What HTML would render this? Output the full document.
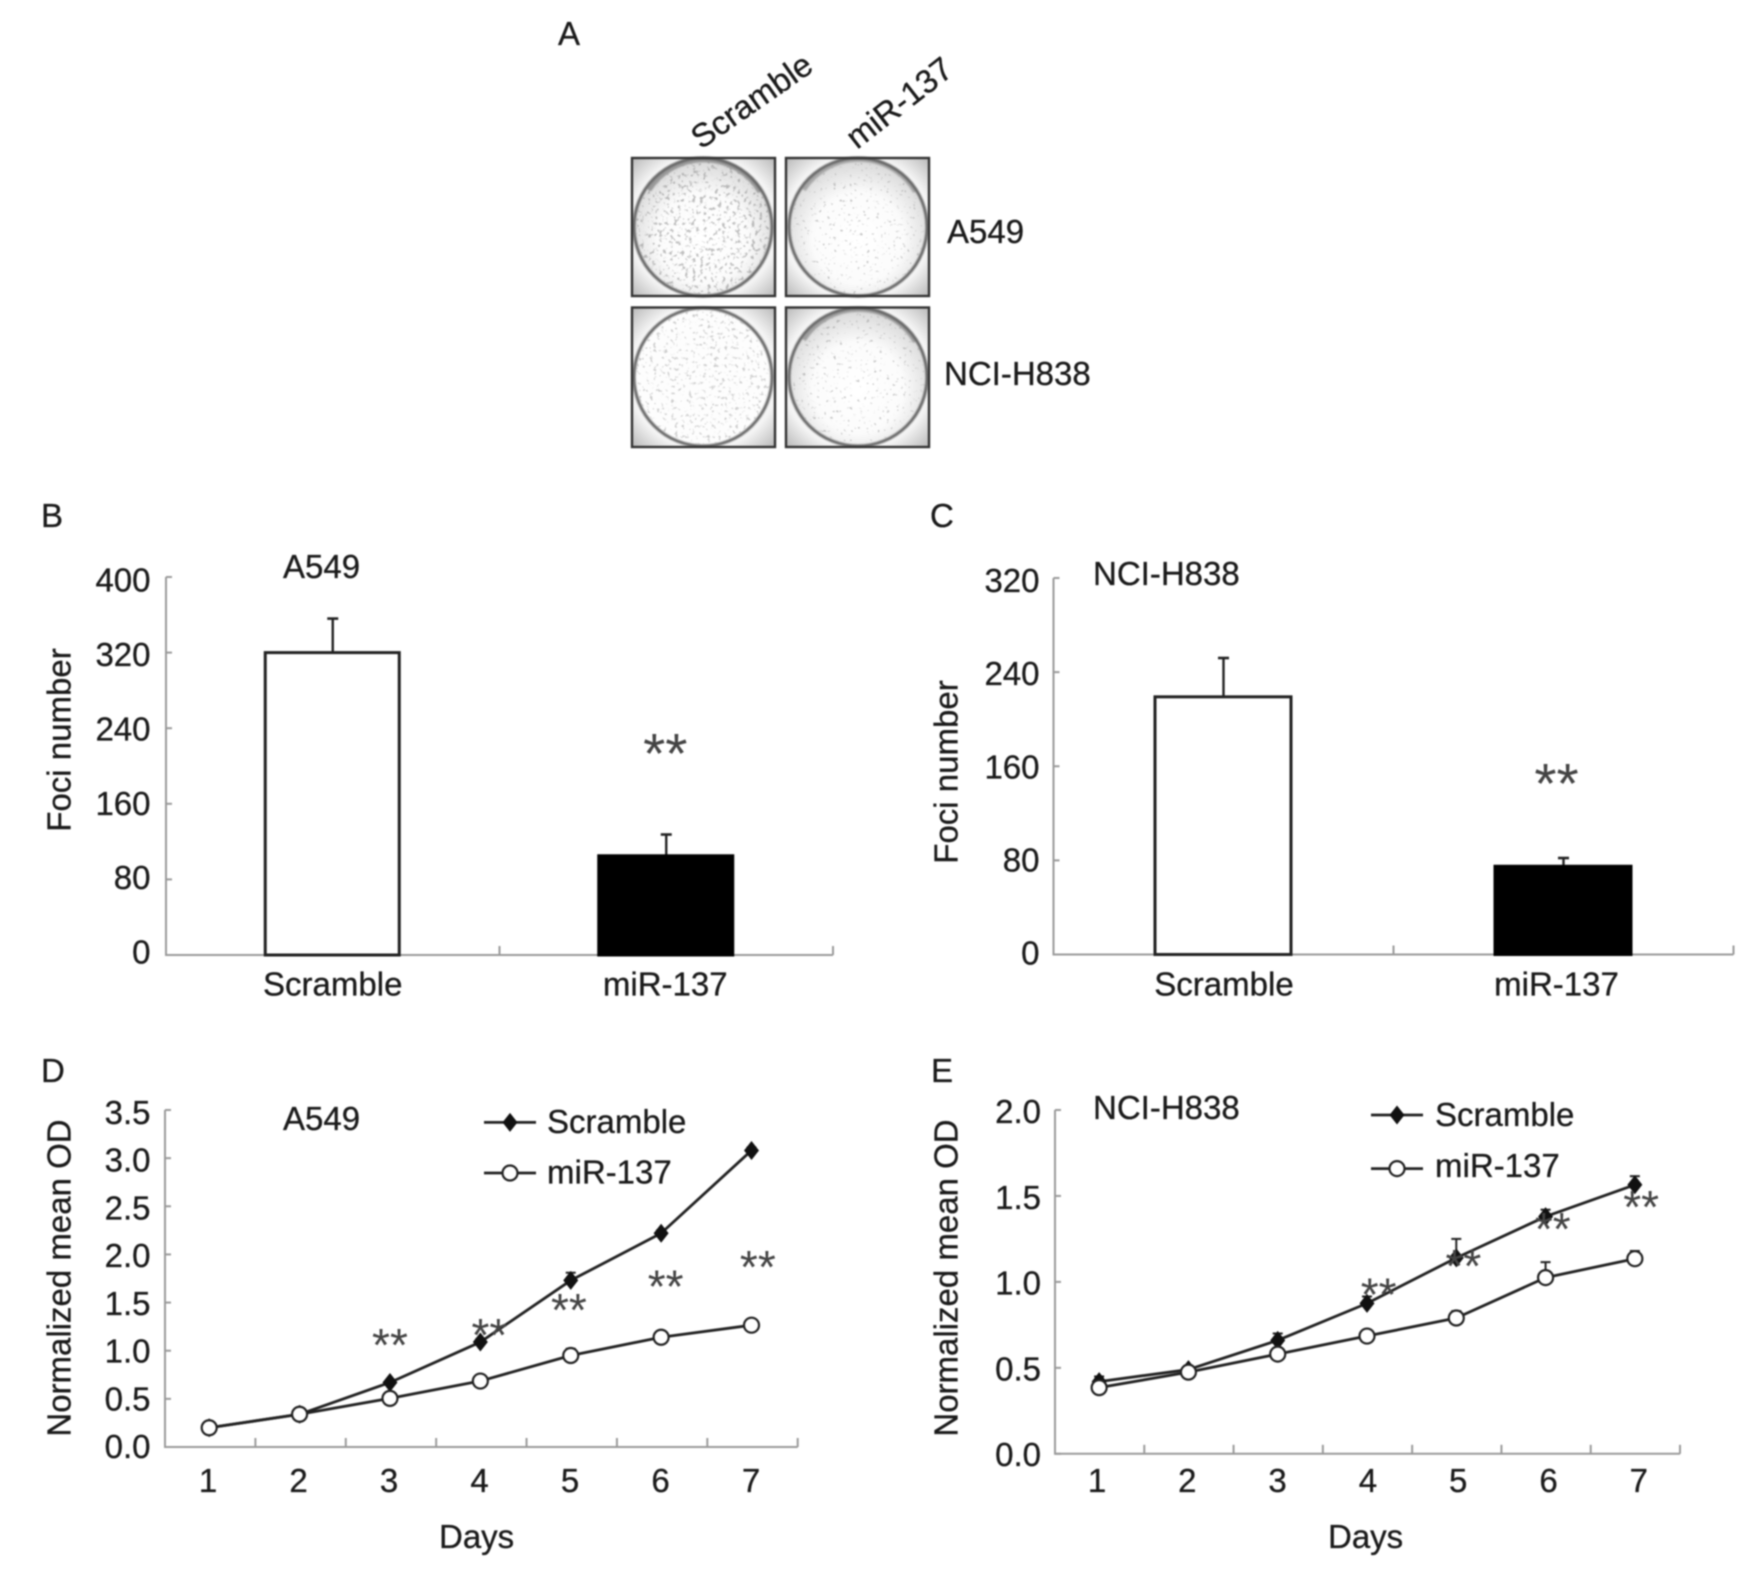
<!DOCTYPE html>
<html lang="en">
<head>
<meta charset="utf-8">
<title>miR-137 foci and growth figure</title>
<style>
html,body{margin:0;padding:0;background:#fff;}
#figure{display:block;width:1748px;height:1571px;filter:blur(0.75px);}
text{font-family:"Liberation Sans",Arial,sans-serif;font-size:33px;fill:#1a1a1a;stroke:#1a1a1a;stroke-width:0.3px;}
.panel-letter{font-size:33px;}
.star{fill:#444;stroke:none;}
</style>
</head>
<body>
<svg id="figure" xmlns="http://www.w3.org/2000/svg" width="1748" height="1571" viewBox="0 0 1748 1571">
<defs>
<radialGradient id="plate-bg" cx="50%" cy="50%" r="72%">
<stop offset="0" stop-color="#ffffff"/><stop offset="0.72" stop-color="#f4f4f4"/><stop offset="1" stop-color="#b4b4b4"/>
</radialGradient>
<radialGradient id="dish-fill" cx="50%" cy="58%" r="55%">
<stop offset="0" stop-color="#ffffff"/><stop offset="0.6" stop-color="#fbfbfb"/><stop offset="1" stop-color="#dadada"/>
</radialGradient>
<clipPath id="clip-1"><circle cx="703" cy="227" r="67"/></clipPath>
<clipPath id="clip-2"><circle cx="858" cy="227" r="67"/></clipPath>
<clipPath id="clip-3"><circle cx="703" cy="377" r="67"/></clipPath>
<clipPath id="clip-4"><circle cx="858" cy="377" r="67"/></clipPath>
<filter id="spots-dense" x="0" y="0" width="1" height="1"><feTurbulence type="fractalNoise" baseFrequency="0.27" numOctaves="3" seed="4"/><feColorMatrix values="0 0 0 0 0.3 0 0 0 0 0.3 0 0 0 0 0.3 8 0 0 0 -4.6"/></filter>
<filter id="spots-sparse" x="0" y="0" width="1" height="1"><feTurbulence type="fractalNoise" baseFrequency="0.3" numOctaves="2" seed="11"/><feColorMatrix values="0 0 0 0 0.35 0 0 0 0 0.35 0 0 0 0 0.35 9 0 0 0 -6.0"/></filter>
<filter id="spots-medium" x="0" y="0" width="1" height="1"><feTurbulence type="fractalNoise" baseFrequency="0.28" numOctaves="3" seed="23"/><feColorMatrix values="0 0 0 0 0.35 0 0 0 0 0.35 0 0 0 0 0.35 8 0 0 0 -4.9"/></filter>
<filter id="soft"><feGaussianBlur stdDeviation="0.8"/></filter>
</defs>
<rect width="1748" height="1571" fill="#fff"/>

<text class="panel-letter" x="558" y="45">A</text>
<text class="panel-letter" x="41" y="527">B</text>
<text class="panel-letter" x="930" y="527">C</text>
<text class="panel-letter" x="41" y="1082">D</text>
<text class="panel-letter" x="931" y="1082">E</text>

<g>
<text transform="translate(701,150) rotate(-35)">Scramble</text>
<text transform="translate(857,150) rotate(-38)">miR-137</text>
<text x="947" y="243">A549</text>
<text x="944" y="385">NCI-H838</text>

<g>
<rect x="632" y="158" width="143" height="138" fill="url(#plate-bg)"/>
<circle cx="703" cy="227" r="69" fill="url(#dish-fill)"/>
<g clip-path="url(#clip-1)" opacity="0.6"><rect x="632" y="158" width="143" height="138" filter="url(#spots-dense)"/></g>
<path d="M649 190A65 65 0 0 1 760 192" fill="none" stroke="#9a9a9a" stroke-width="5" filter="url(#soft)"/>
<circle cx="703" cy="227" r="69" fill="none" stroke="#666" stroke-width="3" filter="url(#soft)"/>
<rect x="632" y="158" width="143" height="138" fill="none" stroke="#333" stroke-width="2.4"/>
</g>
<g>
<rect x="786" y="158" width="143" height="138" fill="url(#plate-bg)"/>
<circle cx="858" cy="227" r="69" fill="url(#dish-fill)"/>
<g clip-path="url(#clip-2)" opacity="0.6"><rect x="786" y="158" width="143" height="138" filter="url(#spots-sparse)"/></g>
<path d="M804 190A65 65 0 0 1 915 192" fill="none" stroke="#a8a8a8" stroke-width="4" filter="url(#soft)"/>
<circle cx="858" cy="227" r="69" fill="none" stroke="#666" stroke-width="3" filter="url(#soft)"/>
<rect x="786" y="158" width="143" height="138" fill="none" stroke="#333" stroke-width="2.4"/>
</g>
<g>
<rect x="632" y="307.5" width="143" height="139.5" fill="url(#plate-bg)"/>
<circle cx="703" cy="377" r="69" fill="#fdfdfd"/>
<g clip-path="url(#clip-3)" opacity="0.5"><rect x="632" y="307.5" width="143" height="139.5" filter="url(#spots-medium)"/></g>
<circle cx="703" cy="377" r="69" fill="none" stroke="#666" stroke-width="3" filter="url(#soft)"/>
<rect x="632" y="307.5" width="143" height="139.5" fill="none" stroke="#333" stroke-width="2.4"/>
</g>
<g>
<rect x="786" y="307.5" width="143" height="139.5" fill="url(#plate-bg)"/>
<circle cx="858" cy="377" r="69" fill="url(#dish-fill)"/>
<g clip-path="url(#clip-4)" opacity="0.6"><rect x="786" y="307.5" width="143" height="139.5" filter="url(#spots-sparse)"/></g>
<path d="M804 340A65 65 0 0 1 915 342" fill="none" stroke="#a0a0a0" stroke-width="4" filter="url(#soft)"/>
<circle cx="858" cy="377" r="69" fill="none" stroke="#666" stroke-width="3" filter="url(#soft)"/>
<rect x="786" y="307.5" width="143" height="139.5" fill="none" stroke="#333" stroke-width="2.4"/>
</g>
</g>

<g id="panel-b"></g>
<g id="panel-c"></g>
<g id="panel-d"></g>
<g id="panel-e"></g>
</svg>

<script>
// Panel B / C: foci counts
const fociCategories = ['Scramble', 'miR-137'];
const bValues = [320, 105];
const bErrors = [36, 22.5];
const bTickLabels = ['0', '80', '160', '240', '320', '400'];
const bStarLevel = 220;
const cValues = [219, 75];
const cErrors = [33, 7];
const cTickLabels = ['0', '80', '160', '240', '320'];
const cStarLevel = 151;

// Panel D / E: growth curves
const days = [1, 2, 3, 4, 5, 6, 7];
const dScramble = [0.2, 0.34, 0.67, 1.09, 1.73, 2.22, 3.08];
const dScrambleErr = [0.01, 0.02, 0.02, 0.03, 0.08, 0.03, 0.03];
const dMir = [0.2, 0.34, 0.505, 0.685, 0.95, 1.14, 1.265];
const dMirErr = [0.01, 0.01, 0.02, 0.02, 0.07, 0.02, 0.02];
const dTickLabels = ['0.0', '0.5', '1.0', '1.5', '2.0', '2.5', '3.0', '3.5'];
const dStarDays = [3.0, 4.1, 4.98, 6.05, 7.07];
const dStarLevels = [1.11, 1.215, 1.475, 1.72, 1.92];
const eScramble = [0.42, 0.49, 0.66, 0.875, 1.14, 1.38, 1.565];
const eScrambleErr = [0.03, 0.02, 0.04, 0.04, 0.11, 0.04, 0.05];
const eMir = [0.385, 0.475, 0.58, 0.685, 0.79, 1.025, 1.135];
const eMirErr = [0.01, 0.02, 0.01, 0.01, 0.04, 0.09, 0.045];
const eTickLabels = ['0.0', '0.5', '1.0', '1.5', '2.0'];
const eStarDays = [4.13, 5.08, 6.08, 7.07];
const eStarLevels = [0.956, 1.12, 1.336, 1.465];
const legendSeries = ['Scramble', 'miR-137'];

const NS = 'http://www.w3.org/2000/svg';
const AXIS = '#9a9a9a';
const INK = '#222';

function make(parent, tag, attrs, content) {
  const el = document.createElementNS(NS, tag);
  for (const k in attrs) el.setAttribute(k, attrs[k]);
  if (content !== undefined) el.textContent = content;
  parent.appendChild(el);
  return el;
}

function drawAxes(root, a, tickLabels, xTickCount) {
  const max = Number(tickLabels[tickLabels.length - 1]);
  const y = v => a.y0 - (v / max) * (a.y0 - a.yTop);
  let el = make(root, 'line', {x1: a.x0, x2: a.x0, y1: a.yTop, y2: a.y0, stroke: AXIS, 'stroke-width': 2});
  
  
  el = make(root, 'line', {x1: a.x0 - 1, x2: a.xEnd, y1: a.y0, y2: a.y0, stroke: AXIS, 'stroke-width': 2});
  
  
  tickLabels.forEach(label => {
    const v = Number(label);
    const frac = v / max;
    let t = make(root, 'line', {x1: a.x0, x2: a.x0 + 6, y1: y(v), y2: y(v), stroke: AXIS, 'stroke-width': 2});
    
    
    const off = a.labelOffBottom + (a.labelOffTop - a.labelOffBottom) * frac;
    t = make(root, 'text', {x: a.labelEnd, y: y(v) + off, 'text-anchor': 'end'}, label);
    
    
  });
  const band = (a.xEnd - a.x0) / xTickCount;
  for (let i = 1; i <= xTickCount; i++) {
    const px = a.x0 + band * i;
    const t = make(root, 'line', {x1: px, x2: px, y1: a.y0 - 9, y2: a.y0, stroke: AXIS, 'stroke-width': 2});
    
    
  }
  const title = make(root, 'text', {transform: 'translate(' + a.titleX + ',' + a.titleY + ') rotate(-90)', 'text-anchor': 'middle'}, a.yTitle);
  
  
  const cell = make(root, 'text', {x: a.cellX, y: a.cellY}, a.cellName);
  
  
  return {y, band};
}

function drawStar(root, x, cy, size) {
  const s = make(root, 'text', {x: x, y: cy + size * 0.455, 'text-anchor': 'middle', class: 'star', style: 'font-size:' + size + 'px'}, '**');
  
  
}

function drawBars(root, a, values, errors, tickLabels, starLevel) {
  const {y, band} = drawAxes(root, a, tickLabels, 2);
  const cx = i => a.x0 + band * (i + 0.5);
  values.forEach((v, i) => {
    const ex = cx(i);
    const top = y(v + errors[i]);
    let el = make(root, 'line', {x1: ex, x2: ex, y1: top, y2: y(v), stroke: INK, 'stroke-width': 2.4});
    
    
    el = make(root, 'line', {x1: ex - 5.5, x2: ex + 5.5, y1: top, y2: top, stroke: INK, 'stroke-width': 2.6});
    
    
    el = make(root, 'rect', {x: ex - a.barW / 2 - 0.5, y: y(v), width: a.barW, height: a.y0 - y(v), fill: i === 0 ? '#fff' : '#000', stroke: i === 0 ? '#222' : '#000', 'stroke-width': 3});
    
    
    el = make(root, 'text', {x: ex + a.catDx[i], y: a.catY, 'text-anchor': 'middle'}, fociCategories[i]);
    
    
  });
  drawStar(root, cx(1) + a.catDx[1], y(starLevel), 57);
}

function drawSeries(root, xf, y, vals, errs, filled) {
  const pts = vals.map((v, i) => xf(days[i]) + ',' + y(v)).join(' ');
  let p = make(root, 'polyline', {points: pts, fill: 'none', stroke: INK, 'stroke-width': 2.8, 'stroke-linejoin': 'round'});
  
  
  vals.forEach((v, i) => {
    const px = xf(days[i]);
    const top = y(v + errs[i]);
    let e = make(root, 'line', {x1: px, x2: px, y1: top, y2: y(v), stroke: INK, 'stroke-width': 2});
    
    
    e = make(root, 'line', {x1: px - 5, x2: px + 5, y1: top, y2: top, stroke: INK, 'stroke-width': 2});
    
    
  });
  vals.forEach((v, i) => {
    const px = xf(days[i]);
    const py = y(v);
    if (filled) {
      const m = make(root, 'polygon', {points: [px, py - 9.5, px + 7.5, py, px, py + 9.5, px - 7.5, py].join(','), fill: '#111'});
      
      
    } else {
      const m = make(root, 'circle', {cx: px, cy: py, r: 7.5, fill: '#fff', stroke: INK, 'stroke-width': 2.2});
      
      
    }
  });
}

function drawLegend(root, l) {
  let e = make(root, 'line', {x1: l.x1, x2: l.x2, y1: l.y1, y2: l.y1, stroke: INK, 'stroke-width': 2.8});
  
  
  const mx = (l.x1 + l.x2) / 2;
  e = make(root, 'polygon', {points: [mx, l.y1 - 9.5, mx + 7.5, l.y1, mx, l.y1 + 9.5, mx - 7.5, l.y1].join(','), fill: '#111'});
  
  
  e = make(root, 'text', {x: l.tx, y: l.t1}, legendSeries[0]);
  
  
  e = make(root, 'line', {x1: l.x1, x2: l.x2, y1: l.y2, y2: l.y2, stroke: INK, 'stroke-width': 2.8});
  
  
  e = make(root, 'circle', {cx: mx, cy: l.y2, r: 7.5, fill: '#fff', stroke: INK, 'stroke-width': 2.2});
  
  
  e = make(root, 'text', {x: l.tx, y: l.t2}, legendSeries[1]);
  
  
}

function drawLines(root, a, scramble, scrambleErr, mir, mirErr, tickLabels, starDays, starLevels) {
  const {y, band} = drawAxes(root, a, tickLabels, 7);
  const xf = d => a.x0 + band * (d - 0.5) + a.pointDx;
  days.forEach((d, i) => {
    const t = make(root, 'text', {x: a.dayX0 + a.dayStep * i, y: a.dayY, 'text-anchor': 'middle'}, String(d));
    
    
  });
  const title = make(root, 'text', {x: a.daysX, y: a.daysY, 'text-anchor': 'middle'}, 'Days');
  
  
  drawSeries(root, xf, y, scramble, scrambleErr, true);
  drawSeries(root, xf, y, mir, mirErr, false);
  starDays.forEach((d, i) => drawStar(root, xf(d), y(starLevels[i]), 46));
  drawLegend(root, a.legend);
}

drawBars(document.getElementById('panel-b'), {
  x0: 166, xEnd: 833, yTop: 577, y0: 955, barW: 134, catY: 995.5, catDx: [0, -1],
  labelEnd: 150.5, labelOffTop: 14.5, labelOffBottom: 8.6,
  titleX: 70.5, titleY: 740, yTitle: 'Foci number',
  cellX: 283, cellY: 578, cellName: 'A549'
}, bValues, bErrors, bTickLabels, bStarLevel);

drawBars(document.getElementById('panel-c'), {
  x0: 1053.5, xEnd: 1733.5, yTop: 578, y0: 954.5, barW: 136, catY: 995.5, catDx: [0.5, -7],
  labelEnd: 1039.5, labelOffTop: 14, labelOffBottom: 10,
  titleX: 957.6, titleY: 772, yTitle: 'Foci number',
  cellX: 1093, cellY: 585, cellName: 'NCI-H838'
}, cValues, cErrors, cTickLabels, cStarLevel);

drawLines(document.getElementById('panel-d'), {
  x0: 165, xEnd: 797.7, yTop: 1110, y0: 1447, pointDx: -1,
  labelEnd: 150.5, labelOffTop: 14, labelOffBottom: 11,
  titleX: 70.5, titleY: 1278, yTitle: 'Normalized mean OD',
  cellX: 283, cellY: 1130, cellName: 'A549',
  dayX0: 208, dayStep: 90.5, dayY: 1492, daysX: 476.6, daysY: 1548,
  legend: {x1: 484, x2: 536, y1: 1122.4, y2: 1173, tx: 547, t1: 1133, t2: 1183.5}
}, dScramble, dScrambleErr, dMir, dMirErr, dTickLabels, dStarDays, dStarLevels);

drawLines(document.getElementById('panel-e'), {
  x0: 1055, xEnd: 1680, yTop: 1110, y0: 1453.8, pointDx: -0.5,
  labelEnd: 1041, labelOffTop: 13, labelOffBottom: 12.4,
  titleX: 957.6, titleY: 1278, yTitle: 'Normalized mean OD',
  cellX: 1093, cellY: 1119, cellName: 'NCI-H838',
  dayX0: 1097, dayStep: 90.3, dayY: 1492, daysX: 1365.6, daysY: 1548,
  legend: {x1: 1371, x2: 1423, y1: 1115, y2: 1168.6, tx: 1435, t1: 1126, t2: 1177}
}, eScramble, eScrambleErr, eMir, eMirErr, eTickLabels, eStarDays, eStarLevels);
</script>
</body>
</html>
